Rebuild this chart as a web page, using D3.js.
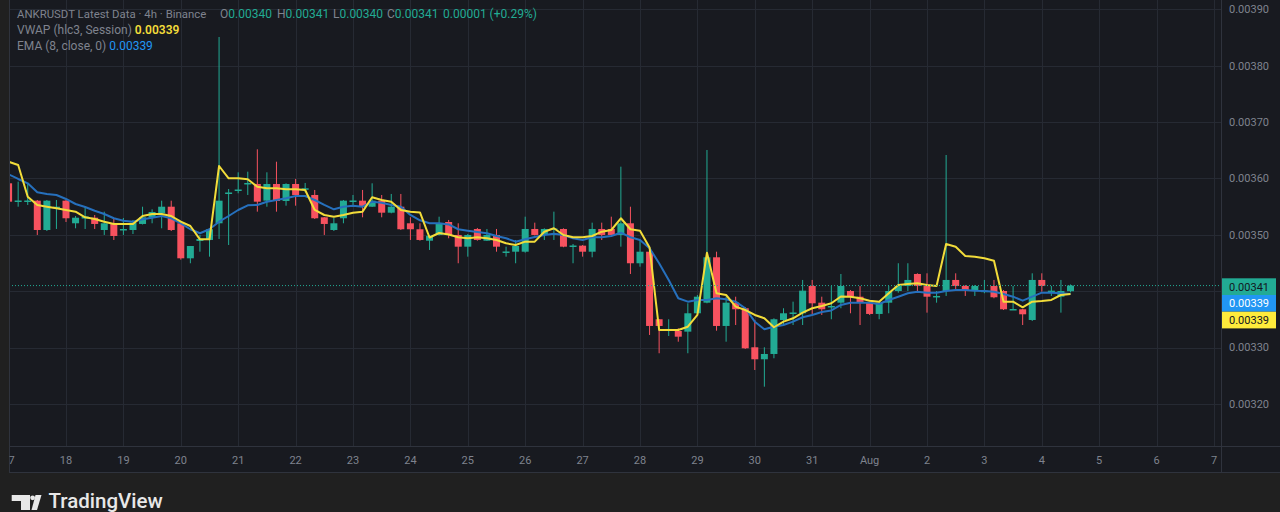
<!DOCTYPE html>
<html><head><meta charset="utf-8">
<script src="https://cdn.jsdelivr.net/npm/d3@7"></script>
<style>html,body{margin:0;padding:0;background:#202020;overflow:hidden}svg{display:block}</style>
</head><body>
<svg id="c" width="1280" height="512"></svg>
<script>
// ---- data (4h candles, ANKRUSDT, Binance) ----
const firstBarUTC = Date.UTC(2024, 6, 17, 0, 0);   // 17 Jul 00:00
const barHours = 4;
const open = [0.0035914,0.0035600,0.0035600,0.0035606,0.0035086,0.0035471,0.0035606,0.0035205,0.0035290,0.0035304,
0.0035086,0.0035205,0.0035090,0.0035086,0.0035193,0.0035304,0.0035382,0.0035499,0.0035205,0.0034584,
0.0034891,0.0034909,0.0035205,0.0035725,0.0035787,0.0035902,0.0035902,0.0035606,0.0035902,0.0035600,
0.0035902,0.0035804,0.0035707,0.0035311,0.0035086,0.0035294,0.0035592,0.0035606,0.0035499,0.0035606,
0.0035393,0.0035499,0.0035205,0.0035099,0.0034896,0.0034998,0.0035228,0.0034998,0.0034790,0.0035104,
0.0034896,0.0034998,0.0034696,0.0034701,0.0034701,0.0035104,0.0034998,0.0035095,0.0035104,0.0034802,
0.0034808,0.0034701,0.0035104,0.0035104,0.0034998,0.0035205,0.0034496,0.0034701,0.0033503,0.0033316,
0.0033295,0.0033283,0.0033609,0.0033797,0.0034602,0.0033384,0.0033797,0.0033698,0.0033006,0.0032793,
0.0032887,0.0033490,0.0033597,0.0033609,0.0034093,0.0033797,0.0033721,0.0033797,0.0034004,0.0033903,
0.0033797,0.0033597,0.0033797,0.0034004,0.0034093,0.0034306,0.0034093,0.0033898,0.0034004,0.0034200,
0.0034093,0.0034004,0.0033999,0.0034093,0.0034004,0.0033675,0.0033680,0.0033490,0.0034200,0.0033999,
0.0033903,0.0034000];
const high = [0.0035937,0.0035943,0.0035920,0.0035618,0.0035618,0.0035618,0.0035618,0.0035334,0.0035499,0.0035352,
0.0035411,0.0035299,0.0035299,0.0035264,0.0035499,0.0035453,0.0035606,0.0035606,0.0035216,0.0034802,
0.0034998,0.0035099,0.0038509,0.0035813,0.0036109,0.0036120,0.0036517,0.0036109,0.0036297,0.0035914,
0.0035991,0.0035920,0.0035796,0.0035316,0.0035299,0.0035618,0.0035707,0.0035796,0.0035914,0.0035707,
0.0035725,0.0035725,0.0035311,0.0035205,0.0034998,0.0035322,0.0035264,0.0035205,0.0035015,0.0035122,
0.0035104,0.0035104,0.0034790,0.0034909,0.0035322,0.0035216,0.0035116,0.0035411,0.0035116,0.0034838,
0.0034820,0.0035216,0.0035216,0.0035322,0.0036209,0.0035499,0.0034909,0.0034714,0.0033508,0.0033503,
0.0033343,0.0033786,0.0033933,0.0036505,0.0034701,0.0033903,0.0033903,0.0033721,0.0033490,0.0033006,
0.0033520,0.0033698,0.0033815,0.0034200,0.0034200,0.0033903,0.0034093,0.0034306,0.0034022,0.0034093,
0.0033809,0.0033809,0.0034093,0.0034496,0.0034496,0.0034318,0.0034318,0.0034004,0.0036416,0.0034318,
0.0034111,0.0034111,0.0034200,0.0034200,0.0034022,0.0034093,0.0033685,0.0034318,0.0034318,0.0034093,
0.0034200,0.0034120];
const low = [0.0035565,0.0035499,0.0035530,0.0034998,0.0035068,0.0035104,0.0035228,0.0035116,0.0035104,0.0035104,
0.0034998,0.0034909,0.0034998,0.0035015,0.0035184,0.0035205,0.0035116,0.0035068,0.0034560,0.0034496,
0.0034701,0.0034613,0.0034927,0.0034820,0.0035737,0.0035707,0.0035411,0.0035499,0.0035411,0.0035517,
0.0035517,0.0035755,0.0035281,0.0034998,0.0035068,0.0035205,0.0035530,0.0035311,0.0035494,0.0035311,
0.0035382,0.0035086,0.0034909,0.0034896,0.0034732,0.0034989,0.0034939,0.0034496,0.0034613,0.0034896,
0.0034891,0.0034701,0.0034613,0.0034496,0.0034684,0.0034989,0.0034909,0.0034909,0.0034780,0.0034496,
0.0034613,0.0034602,0.0034909,0.0034989,0.0034790,0.0034306,0.0034435,0.0033224,0.0032900,0.0033206,
0.0033105,0.0032900,0.0033597,0.0033786,0.0033300,0.0033105,0.0033401,0.0032976,0.0032603,0.0032307,
0.0032811,0.0033401,0.0033401,0.0033401,0.0033579,0.0033579,0.0033503,0.0033698,0.0033609,0.0033401,
0.0033579,0.0033503,0.0033609,0.0033974,0.0034004,0.0033992,0.0033620,0.0033797,0.0033916,0.0034004,
0.0033916,0.0033916,0.0033964,0.0033875,0.0033667,0.0033667,0.0033401,0.0033472,0.0033992,0.0033916,
0.0033620,0.0033980];
const close = [0.0035588,0.0035609,0.0035609,0.0035086,0.0035606,0.0035499,0.0035294,0.0035304,0.0035326,0.0035193,
0.0035205,0.0034980,0.0035104,0.0035216,0.0035311,0.0035405,0.0035499,0.0035086,0.0034584,0.0034802,
0.0034927,0.0035099,0.0035606,0.0035751,0.0035804,0.0035920,0.0035588,0.0035902,0.0035600,0.0035902,
0.0035707,0.0035826,0.0035294,0.0035193,0.0035205,0.0035606,0.0035609,0.0035499,0.0035606,0.0035393,
0.0035499,0.0035099,0.0035099,0.0034909,0.0034985,0.0035205,0.0034998,0.0034790,0.0034998,0.0034909,
0.0034998,0.0034790,0.0034705,0.0034802,0.0035104,0.0034998,0.0035104,0.0035113,0.0034790,0.0034811,
0.0034701,0.0035104,0.0034998,0.0034998,0.0035205,0.0034496,0.0034701,0.0033384,0.0033384,0.0033331,
0.0033194,0.0033609,0.0033903,0.0034602,0.0033384,0.0033797,0.0033680,0.0032988,0.0032793,0.0032887,
0.0033503,0.0033609,0.0033623,0.0034010,0.0033786,0.0033680,0.0033738,0.0034093,0.0033903,0.0033797,
0.0033597,0.0033797,0.0034004,0.0034093,0.0034200,0.0034093,0.0033903,0.0033916,0.0034200,0.0034093,
0.0034004,0.0034093,0.0034010,0.0033893,0.0033680,0.0033685,0.0033591,0.0034200,0.0034093,0.0034010,
0.0034004,0.0034100];
const vwap = [0.0036297,0.0036239,0.0035677,0.0035530,0.0035499,0.0035471,0.0035441,0.0035411,0.0035311,0.0035281,
0.0035233,0.0035193,0.0035193,0.0035193,0.0035334,0.0035370,0.0035370,0.0035334,0.0035233,0.0035157,
0.0034921,0.0034921,0.0036221,0.0036003,0.0036003,0.0035985,0.0035854,0.0035826,0.0035826,0.0035808,
0.0035808,0.0035796,0.0035441,0.0035352,0.0035322,0.0035352,0.0035393,0.0035411,0.0035666,0.0035618,
0.0035588,0.0035441,0.0035411,0.0035397,0.0034953,0.0035033,0.0035006,0.0034957,0.0034939,0.0034957,
0.0034939,0.0034909,0.0034850,0.0034820,0.0034879,0.0034879,0.0035056,0.0035116,0.0034998,0.0034957,
0.0034957,0.0034980,0.0035056,0.0035086,0.0035294,0.0035099,0.0035074,0.0034776,0.0033313,0.0033313,
0.0033313,0.0033371,0.0033579,0.0034684,0.0033964,0.0033933,0.0033726,0.0033667,0.0033579,0.0033520,
0.0033361,0.0033460,0.0033520,0.0033620,0.0033698,0.0033738,0.0033786,0.0033907,0.0033903,0.0033875,
0.0033832,0.0033815,0.0033964,0.0034111,0.0034129,0.0034141,0.0034111,0.0034093,0.0034838,0.0034790,
0.0034625,0.0034613,0.0034584,0.0034542,0.0033815,0.0033815,0.0033715,0.0033815,0.0033827,0.0033845,
0.0033933,0.0033951];
const ema = [0.0036074,0.0035991,0.0035914,0.0035755,0.0035725,0.0035707,0.0035636,0.0035547,0.0035494,0.0035428,
0.0035370,0.0035294,0.0035251,0.0035233,0.0035276,0.0035304,0.0035334,0.0035294,0.0035205,0.0035099,
0.0035028,0.0035099,0.0035233,0.0035334,0.0035441,0.0035524,0.0035530,0.0035588,0.0035618,0.0035648,
0.0035689,0.0035689,0.0035618,0.0035530,0.0035453,0.0035499,0.0035517,0.0035499,0.0035588,0.0035570,
0.0035530,0.0035499,0.0035352,0.0035258,0.0035205,0.0035205,0.0035184,0.0035099,0.0035074,0.0035050,
0.0035028,0.0034980,0.0034939,0.0034879,0.0034921,0.0034962,0.0034998,0.0035020,0.0034998,0.0034939,
0.0034909,0.0034957,0.0034957,0.0034980,0.0035038,0.0034957,0.0034909,0.0034762,0.0034496,0.0034200,
0.0033875,0.0033815,0.0033845,0.0033845,0.0033875,0.0033857,0.0033815,0.0033698,0.0033460,0.0033325,
0.0033371,0.0033401,0.0033460,0.0033538,0.0033579,0.0033632,0.0033659,0.0033756,0.0033797,0.0033797,
0.0033797,0.0033774,0.0033845,0.0033903,0.0033964,0.0033992,0.0033974,0.0033974,0.0034004,0.0034022,
0.0034022,0.0034010,0.0034004,0.0033992,0.0033951,0.0033903,0.0033832,0.0033903,0.0033974,0.0033974,
0.0033964,0.0033951];
const priceTicks = [0.0032, 0.0033, 0.0034, 0.0035, 0.0036, 0.0037, 0.0038, 0.0039];
const priceLabelHidden = [0.0034];
const dayTickLabels = ["17","18","19","20","21","22","23","24","25","26","27","28","29","30","31","Aug","2","3","4","5","6","7"];
const lastPrice = 0.00341, vwapLast = 0.00339, emaLast = 0.00339;
const legendSymbol = "ANKRUSDT Latest Data · 4h · Binance";
const legendOHLC = [["O","0.00340"],["H","0.00341"],["L","0.00340"],["C","0.00341"]];
const legendChange = "0.00001 (+0.29%)";

// ---- layout ----
const W = 1280, H = 512;
const paneL = 9, plotR = 1221, plotB = 446, axisB = 473;
const C = {bg:"#202020", pane:"#181a20", grid:"#262a33", border:"#2f333d", text:"#7f838e",
  up:"#22ab94", down:"#f7525f", vwap:"#f2dc3a", ema:"#2670bd", tagBlue:"#2196f3", tagYellow:"#ffeb3b"};
const FONT = "Roboto, 'Noto Sans', sans-serif";

const svg = d3.select("#c");
const t0 = new Date(firstBarUTC);
const bars = open.map((o,i)=>({t:new Date(firstBarUTC + i*barHours*3600e3), o, h:high[i], l:low[i], c:close[i], v:vwap[i], e:ema[i]}));
const x = d3.scaleUtc().domain([t0, new Date(Date.UTC(2024,7,7))]).range([8.6, 1214]);
const y = d3.scaleLinear().domain([0.0032, 0.0039]).range([404, 9.3]);

svg.append("rect").attr("width",W).attr("height",H).attr("fill",C.bg);
svg.append("rect").attr("x",paneL).attr("y",0).attr("width",W-paneL).attr("height",axisB).attr("fill",C.pane);

const defs = svg.append("defs");
defs.append("clipPath").attr("id","plot").append("rect").attr("x",paneL+0.5).attr("y",0).attr("width",plotR-paneL-0.5).attr("height",plotB);
defs.append("clipPath").attr("id","taxis").append("rect").attr("x",paneL+0.5).attr("y",plotB).attr("width",plotR-paneL-0.5).attr("height",axisB-plotB);

const dayTicks = dayTickLabels.map((s,k)=>new Date(Date.UTC(2024,6,17+k)));

// grid
const g = svg.append("g").attr("clip-path","url(#plot)");
g.selectAll("line.vg").data(dayTicks).join("line")
  .attr("x1",d=>Math.round(x(d))+0.5).attr("x2",d=>Math.round(x(d))+0.5).attr("y1",0).attr("y2",plotB)
  .attr("stroke",C.grid).attr("stroke-width",1);
g.selectAll("line.hg").data(priceTicks).join("line")
  .attr("x1",paneL).attr("x2",plotR).attr("y1",d=>Math.round(y(d))+0.5).attr("y2",d=>Math.round(y(d))+0.5)
  .attr("stroke",C.grid).attr("stroke-width",1);

// candles
const bw = 7;
const cg = g.append("g");
cg.selectAll("line.wick").data(bars).join("line")
  .attr("x1",d=>x(d.t)).attr("x2",d=>x(d.t)).attr("y1",d=>y(d.h)).attr("y2",d=>y(d.l))
  .attr("stroke",d=>d.c>=d.o?C.up:C.down).attr("stroke-width",1);
cg.selectAll("rect.body").data(bars).join("rect")
  .attr("x",d=>x(d.t)-bw/2).attr("width",bw)
  .attr("y",d=>y(Math.max(d.o,d.c)))
  .attr("height",d=>Math.max(1.5, Math.abs(y(d.o)-y(d.c))))
  .attr("fill",d=>d.c>=d.o?C.up:C.down);

// indicator lines
const lineE = d3.line().x(d=>x(d.t)).y(d=>y(d.e));
const lineV = d3.line().x(d=>x(d.t)).y(d=>y(d.v));
g.append("path").datum(bars).attr("d",lineE).attr("fill","none").attr("stroke",C.ema).attr("stroke-width",2).attr("stroke-linejoin","round");
g.append("path").datum(bars).attr("d",lineV).attr("fill","none").attr("stroke",C.vwap).attr("stroke-width",2).attr("stroke-linejoin","round");

// last price dotted line
g.append("line").attr("x1",paneL).attr("x2",plotR).attr("y1",y(lastPrice)).attr("y2",y(lastPrice))
  .attr("stroke",C.up).attr("stroke-width",1).attr("stroke-dasharray","1,2");

// borders
svg.append("line").attr("x1",paneL).attr("x2",W).attr("y1",plotB+0.5).attr("y2",plotB+0.5).attr("stroke",C.border);
svg.append("line").attr("x1",paneL).attr("x2",W).attr("y1",axisB-0.5).attr("y2",axisB-0.5).attr("stroke",C.border);
svg.append("line").attr("x1",plotR+0.5).attr("x2",plotR+0.5).attr("y1",0).attr("y2",axisB).attr("stroke",C.border);
svg.append("line").attr("x1",paneL+0.5).attr("x2",paneL+0.5).attr("y1",0).attr("y2",axisB).attr("stroke",C.border);

// price axis labels
const fmt = d3.format(".5f");
svg.append("g").selectAll("text").data(priceTicks.filter(p=>!priceLabelHidden.includes(p))).join("text")
  .attr("x",1229).attr("y",d=>y(d)).attr("dy","0.35em")
  .attr("font-family",FONT).attr("font-size",11).attr("fill",C.text).text(d=>fmt(d));

// price tags
const tags = [[lastPrice,C.up,"#131722"],[emaLast,C.tagBlue,"#ffffff"],[vwapLast,C.tagYellow,"#131722"]];
tags.forEach((tg,i)=>{
  const ty = 278.3 + i*16.7;
  svg.append("rect").attr("x",1222).attr("y",ty).attr("width",54).attr("height",16.7).attr("fill",tg[1]);
  svg.append("text").attr("x",1249).attr("y",ty+8.4).attr("dy","0.35em").attr("text-anchor","middle")
    .attr("font-family",FONT).attr("font-size",11).attr("fill",tg[2]).text(fmt(tg[0]));
});

// time axis labels
svg.append("g").attr("clip-path","url(#taxis)").selectAll("text").data(dayTicks).join("text")
  .attr("x",d=>x(d)).attr("y",460).attr("dy","0.35em").attr("text-anchor","middle")
  .attr("font-family",FONT).attr("font-size",11).attr("fill",C.text).text((d,i)=>dayTickLabels[i]);

// legend
const lg = svg.append("g").attr("font-family",FONT).attr("font-size",12);
lg.append("text").attr("x",17).attr("y",14).attr("dy","0.35em").attr("font-size",11.4).attr("fill",C.text).text(legendSymbol);
const ohlcX = [220,277,333,387];
legendOHLC.forEach((p,i)=>{
  const t = lg.append("text").attr("x",ohlcX[i]).attr("y",14).attr("dy","0.35em");
  t.append("tspan").attr("fill",C.text).text(p[0]);
  t.append("tspan").attr("fill",C.up).text(p[1]);
});
lg.append("text").attr("x",443).attr("y",14).attr("dy","0.35em").attr("fill",C.up).text(legendChange);
const l2 = lg.append("text").attr("x",17).attr("y",30).attr("dy","0.35em");
l2.append("tspan").attr("fill",C.text).text("VWAP (hlc3, Session) ");
l2.append("tspan").attr("fill",C.vwap).attr("font-weight",600).text(fmt(vwapLast));
const l3 = lg.append("text").attr("x",17).attr("y",46).attr("dy","0.35em");
l3.append("tspan").attr("fill",C.text).text("EMA (8, close, 0) ");
l3.append("tspan").attr("fill",C.tagBlue).text(fmt(emaLast));

// TradingView logo
const logo = svg.append("g").attr("fill","#e8e8e8");
logo.append("path").attr("d","M11.7 495 H30 V510 H21 V501 H11.7 Z");
logo.append("circle").attr("cx",32.6).attr("cy",497.8).attr("r",2.4);
logo.append("path").attr("d","M35.5 495 H41.5 L37 510 H31.5 Z");
logo.append("text").attr("x",48.5).attr("y",507.5).attr("font-family",FONT).attr("font-size",20.5).attr("font-weight",500)
  .attr("fill","#e8e8e8").text("TradingView");
</script>
</body></html>
